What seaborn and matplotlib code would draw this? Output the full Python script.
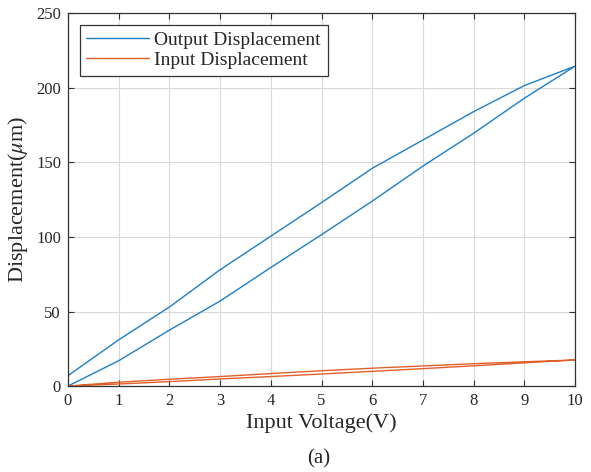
import numpy as np
import pandas as pd
import seaborn as sns
import matplotlib.pyplot as plt

sns.set_style("ticks")
plt.rcParams["font.family"] = ["Liberation Serif", "DejaVu Serif"]
plt.rcParams["mathtext.fontset"] = "stix"

# -------------------------
# DATA
# -------------------------

voltage = [0, 1, 2, 3, 4, 5, 6, 7, 8, 9, 10]

# output displacement: rising branch and falling branch
out_up = [0, 17, 37.5, 57, 79.5, 101.5, 124, 147.5, 169.5, 193, 214.5]
out_down = [7, 31, 53, 78, 100.5, 123, 146, 165, 184, 201.5, 214.5]

# input displacement: rising branch and falling branch
in_up = [0, 1.4, 3.0, 4.8, 6.4, 8.1, 9.9, 11.7, 13.6, 15.6, 17.5]
in_down = [0, 2.6, 4.6, 6.4, 8.4, 10.3, 12.0, 13.5, 15.0, 16.3, 17.5]

# build closed hysteresis loops (up then back down)
loop_x = voltage + voltage[::-1]
out_loop = out_up + out_down[::-1]
in_loop = in_up + in_down[::-1]

df_out = pd.DataFrame({"voltage": loop_x, "disp": out_loop, "run": 0})
df_in = pd.DataFrame({"voltage": loop_x, "disp": in_loop, "run": 0})

# -------------------------
# PLOT
# -------------------------

fig = plt.figure(figsize=(5.91, 4.72), dpi=100)
ax = fig.add_axes([0.115, 0.182, 0.858, 0.79])

sns.lineplot(data=df_out, x="voltage", y="disp", units="run", estimator=None,
             sort=False, color="#1f7fc6", linewidth=1.0, ax=ax,
             label="Output Displacement")
sns.lineplot(data=df_in, x="voltage", y="disp", units="run", estimator=None,
             sort=False, color="#e0602a", linewidth=1.0, ax=ax,
             label="Input Displacement")

ax.set_xlim(0, 10)
ax.set_ylim(0, 250)
ax.set_xticks(range(0, 11))
ax.set_yticks(range(0, 251, 50))
ax.grid(True, color="#d9d9d9", linewidth=0.8)
ax.tick_params(direction="in", top=True, right=True, labelsize=12,
               color="#333333", length=4, pad=5)
for s in ax.spines.values():
    s.set_color("#333333")
    s.set_linewidth(0.9)

ax.set_xlabel("Input Voltage(V)", fontsize=16, labelpad=3)
ax.set_ylabel(r"Displacement($\mu$m)", fontsize=16, labelpad=4)

leg = ax.legend(loc="upper left", fontsize=14, frameon=True, fancybox=False,
                edgecolor="#333333", handlelength=3.2, borderpad=0.35,
                labelspacing=0.1, handletextpad=0.3, borderaxespad=0.6,
                framealpha=1)
leg.get_frame().set_linewidth(0.9)

fig.text(0.54, 0.028, "(a)", ha="center", va="center", fontsize=15)

plt.savefig("out.png", dpi=100)
